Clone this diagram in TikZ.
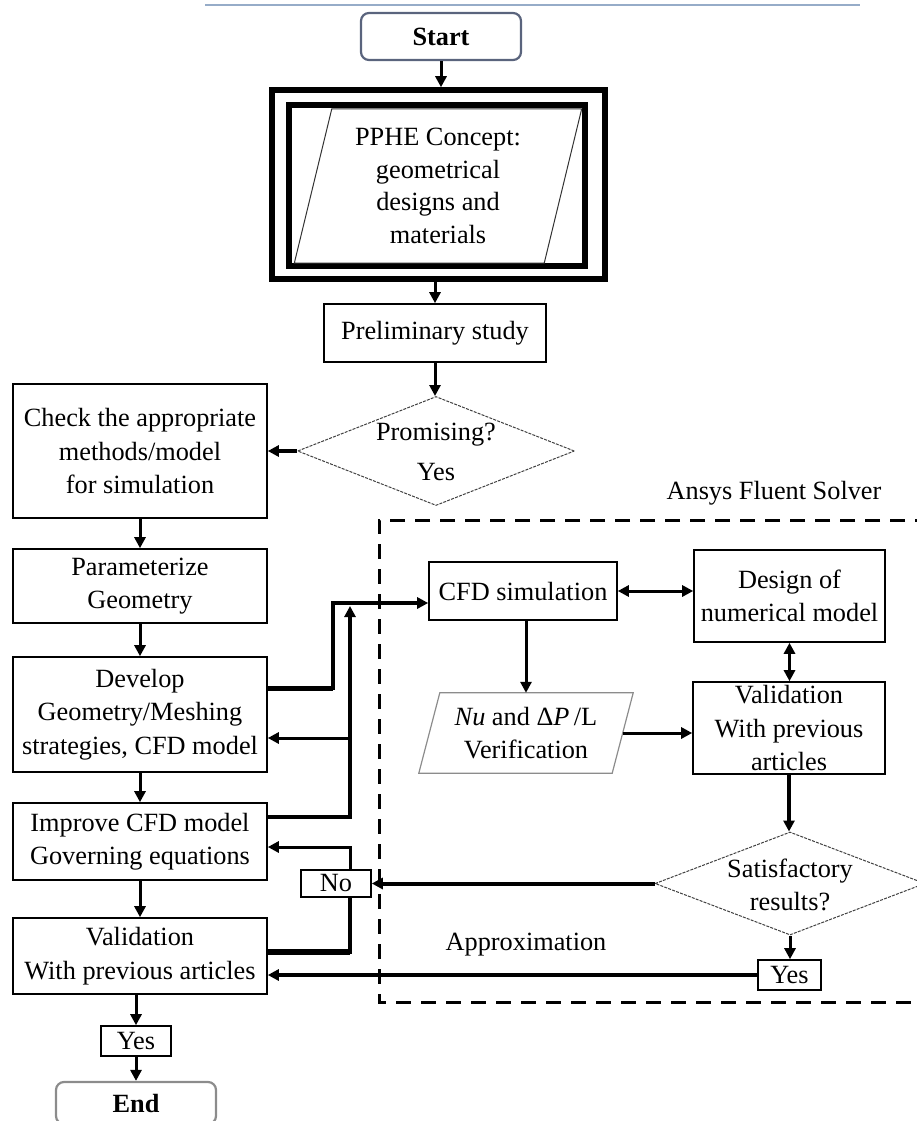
\documentclass[tikz,border=0pt]{standalone}
\usepackage{fontspec}
\setmainfont{Liberation Serif}
\usetikzlibrary{arrows.meta,shapes.geometric}
\definecolor{startcol}{RGB}{90,100,125}
\definecolor{endcol}{RGB}{140,140,140}
\definecolor{topcol}{RGB}{150,172,200}
\begin{document}
\begin{tikzpicture}[x=1pt,y=-1pt,
  txt/.style={font=\fontsize{26.3}{33.5}\selectfont, align=center, inner sep=0pt, text=black},
  box/.style={txt, draw=black, line width=1.6pt},
  term/.style={txt, draw, line width=2.2pt, rounded corners=8pt},
  decis/.style={txt, diamond, draw=black!75, line width=1pt, dash pattern=on 3pt off 1.2pt},
  arr/.style={-{Triangle[length=11pt,width=11pt]}, line width=3pt},
  darr/.style={{Triangle[length=11pt,width=11pt]}-{Triangle[length=11pt,width=11pt]}, line width=3pt},
  heavy/.style={line width=6pt},
  dashbox/.style={line width=3pt, dash pattern=on 15pt off 10pt}]
\useasboundingbox (0,0) rectangle (917,1121);
% top rule
\draw[topcol, line width=2pt] (205,5) -- (860,5);
% dashed solver region
\draw[dashbox] (930,520) -- (379,520) -- (379,1002) -- (930,1002);
\node[txt] (ansys) at (774,493) {Ansys Fluent Solver};
\node[txt] (approx) at (526,945) {Approximation};

% main column
\node[term, draw=startcol, minimum width=160, minimum height=47] (start) at (441,36.5) {\bfseries Start};
\node[draw, line width=5.5pt, minimum width=333, minimum height=189, inner sep=0pt] (outer) at (438.5,184.5) {};
\node[draw, line width=5.5pt, minimum width=296, minimum height=161, inner sep=0pt] (inner) at (437,185.5) {};
\node[txt, font=\fontsize{26.3}{32.5}\selectfont, minimum width=249.5, minimum height=154] (pphe) at (438,186) {PPHE Concept:\\geometrical\\designs and\\materials};
\draw[black!80, line width=1pt] ([xshift=18.75pt]pphe.north west) -- ([xshift=18.75pt]pphe.north east) -- ([xshift=-18.75pt]pphe.south east) -- ([xshift=-18.75pt]pphe.south west) -- cycle;
\node[box, minimum width=222, minimum height=58] (prelim) at (435,333) {Preliminary study};
\node[decis, minimum width=277, minimum height=109] (prom) at (436,451) {};
\node[txt] (promtxt) at (436,452) {Promising?\\[6pt]Yes};

% left column
\node[box, minimum width=254, minimum height=134] (check) at (140,451) {Check the appropriate\\methods/model\\for simulation};
\node[box, minimum width=254, minimum height=74] (param) at (140,586) {Parameterize\\Geometry};
\node[box, minimum width=254, minimum height=115] (develop) at (140,714.5) {Develop\\Geometry/Meshing\\strategies, CFD model};
\node[box, minimum width=254, minimum height=77] (improve) at (140,841.5) {Improve CFD model\\Governing equations};
\node[box, minimum width=254, minimum height=76] (valL) at (140,956) {Validation\\With previous articles};
\node[box, minimum width=70, minimum height=30] (yesL) at (136,1041) {Yes};
\node[term, draw=endcol, minimum width=160, minimum height=42] (end) at (136,1103) {\bfseries End};
\node[box, minimum width=70, minimum height=27] (no) at (336,883.5) {No};

% solver column
\node[box, minimum width=188, minimum height=58] (cfd) at (523,591) {CFD simulation};
\node[box, minimum width=191, minimum height=92] (design) at (789.5,596) {Design of\\numerical model};
\node[box, minimum width=192, minimum height=92] (valR) at (789,728) {Validation\\With previous\\articles};
\node[txt, minimum width=193, minimum height=80] (nu) at (526,733) {\textit{Nu} and Δ\textit{P}\,/L\\Verification};
\draw[black!45, line width=1.2pt] ([xshift=10.5pt]nu.north west) -- ([xshift=10.5pt]nu.north east) -- ([xshift=-10.5pt]nu.south east) -- ([xshift=-10.5pt]nu.south west) -- cycle;
\node[decis, minimum width=270, minimum height=103] (satis) at (790,883.5) {};
\node[txt] (satistxt) at (790,885) {Satisfactory\\results?};
\node[box, minimum width=63, minimum height=30] (yesR) at (789.5,975) {Yes};

% junction points
\coordinate (ja) at (333,603);
\coordinate (jb) at (350,606);
\coordinate (jc) at (350,738);

% connectors main column
\draw[arr] (start.south) -- (start.south |- outer.north);
\draw[arr] (prelim.north |- outer.south) -- (prelim.north);
\draw[arr] (prelim.south) -- (prelim.south |- prom.north);
\draw[arr, line width=3.5pt] (prom.west) -- (check.east |- prom.west);
\draw[arr] (check) -- (param);
\draw[arr] (param) -- (develop);
\draw[arr] (develop) -- (improve);
\draw[arr] (improve) -- (valL);
\draw[arr] (valL.south -| yesL.north) -- (yesL.north);
\draw[arr] (yesL) -- (end);

% left feedback network
\draw[arr, line width=4pt] (develop.east |- 0,688) -| (ja) -- (cfd.west |- ja);
\draw[heavy, line width=5pt] (develop.east |- 0,688) -- (ja |- 0,688);
\draw[arr, line width=3.5pt] (improve.east |- 0,817) -| (jb);
\draw[arr] (jc) -- (develop.east |- jc);
\draw[line width=4pt] (valL.east |- 0,952) -| (no.south -| jc);
\draw[heavy] (valL.east |- 0,952) -- (jc |- 0,952);
\draw[arr] (no.north -| jc) |- (improve.east |- 0,847);

% solver connectors
\draw[darr] (cfd.east) -- (cfd.east -| design.west);
\draw[darr] (design.south) -- (design.south |- valR.north);
\draw[arr] (cfd.south -| nu.north) -- (nu.north);
\draw[arr] (nu.east) -- (nu.east -| valR.west);
\draw[arr, line width=3.5pt] (valR.south) -- (valR.south |- satis.north);
\draw[arr, line width=4pt] (satis.west) -- (no.east |- satis.west);
\draw[arr] (satis.south) -- (satis.south |- yesR.north);
\draw[arr, line width=3.5pt] (yesR.west) -- (valL.east |- yesR.west);
\end{tikzpicture}
\end{document}
